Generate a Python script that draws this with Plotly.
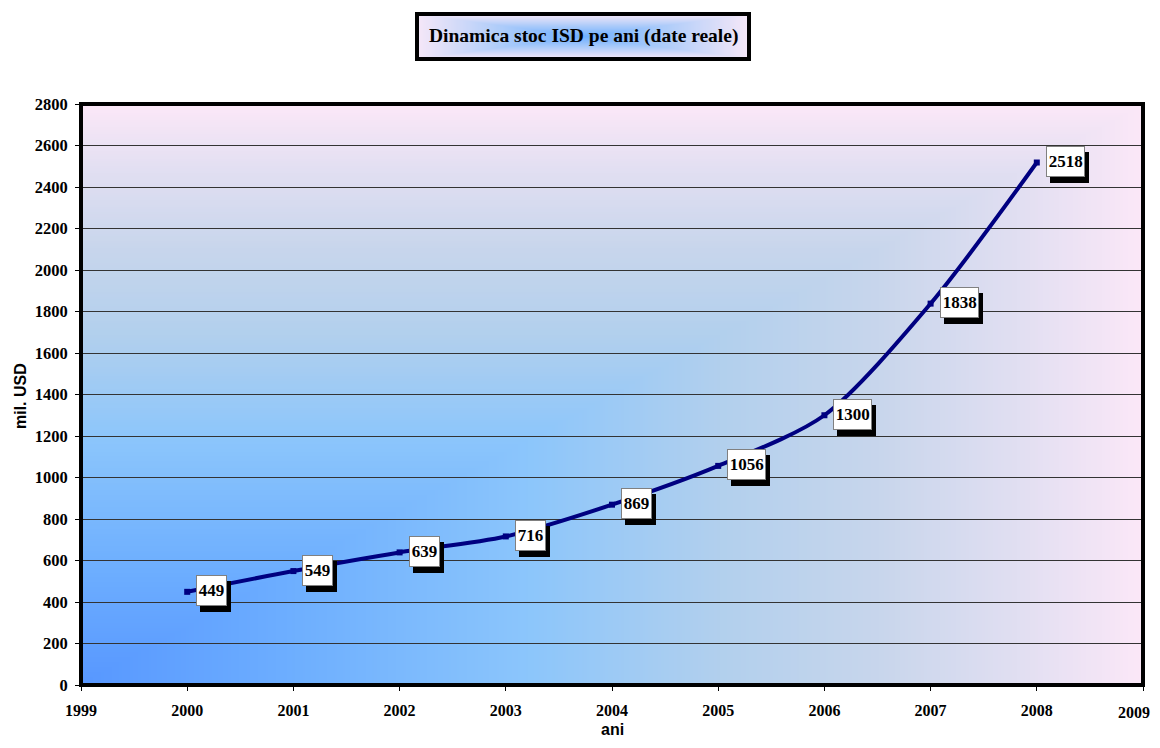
import base64, struct, zlib
import numpy as np
import plotly.graph_objects as go

# ---- data ----
years = [2000, 2001, 2002, 2003, 2004, 2005, 2006, 2007, 2008]
stock = [449, 549, 639, 716, 869, 1056, 1300, 1838, 2518]
x_ticks = list(range(1999, 2010))
y_ticks = list(range(0, 2801, 200))
title_text = "Dinamica stoc ISD pe ani (date reale)"
x_title = "ani"
y_title = "mil. USD"

# page has an 8px body margin: figure drawn at (8, 8); keep page from overflowing
OFF = 8
W, H = 1160 - 2 * OFF, 748 - 2 * OFF
PL, PR, PT, PB = 81, 1143, 104, 685          # plot area in page pixels
L, R, T, B = PL - OFF, OFF + W - PR, PT - OFF, OFF + H - PB
PW, PH = W - L - R, H - T - B


def png_uri(arr):
    h, w, _ = arr.shape
    raw = b"".join(b"\x00" + arr[r].tobytes() for r in range(h))

    def chunk(tag, data):
        c = struct.pack(">I", len(data)) + tag + data
        return c + struct.pack(">I", zlib.crc32(tag + data) & 0xFFFFFFFF)

    png = b"\x89PNG\r\n\x1a\n" + chunk(b"IHDR", struct.pack(">IIBBBBB", w, h, 8, 2, 0, 0, 0))
    png += chunk(b"IDAT", zlib.compress(raw, 9)) + chunk(b"IEND", b"")
    return "data:image/png;base64," + base64.b64encode(png).decode()


def ramp(t, stops):
    out = np.zeros(t.shape + (3,))
    pos = [s[0] for s in stops]
    for c in range(3):
        out[..., c] = np.interp(t, pos, [s[1][c] for s in stops])
    return np.clip(out, 0, 255).astype(np.uint8)


# plot-area gradient (from bottom-left corner)
gw, gh = 400, 240
u = np.linspace(0, 1, gw)[None, :].repeat(gh, 0)
v = np.linspace(1, 0, gh)[:, None].repeat(gw, 1)
t = np.maximum(u, v)
bg_stops = [
    (0.0, (88, 152, 255)),
    (0.2, (110, 175, 255)),
    (0.42, (140, 198, 252)),
    (0.6, (178, 208, 238)),
    (0.75, (200, 214, 236)),
    (0.88, (225, 223, 242)),
    (1.0, (252, 232, 248)),
]
bg_img = png_uri(ramp(t, bg_stops))

# title box gradient (from center)
tw, th = 300, 50
tu = np.linspace(-1, 1, tw)[None, :].repeat(th, 0)
tv = np.linspace(-1, 1, th)[:, None].repeat(tw, 1)
tt = np.maximum(np.abs(tu), np.abs(tv))
title_stops = [(0.0, (110, 175, 255)), (0.5, (175, 205, 250)), (1.0, (246, 232, 248))]
title_img = png_uri(ramp(tt, title_stops))


def px_x(p):
    return (p - PL) / PW


def px_y(p):
    return (PB - p) / PH


fig = go.Figure()
fig.add_trace(go.Scatter(
    x=years, y=stock, mode="lines+markers",
    line=dict(color="#000080", width=4, shape="spline", smoothing=0.8),
    marker=dict(symbol="square", size=6, color="#000080"),
    hoverinfo="x+y", showlegend=False,
))

annotations = []
lab_font = dict(family="Liberation Serif, Times New Roman, serif", size=17, color="black")
for xv, yv in zip(years, stock):
    bw = 8.6 * len(str(yv)) + 1
    annotations.append(dict(
        x=xv, y=yv, xref="x", yref="y", text=f"<b>{yv}</b>", showarrow=False,
        xanchor="left", yanchor="middle", xshift=13, yshift=-5,
        width=bw, height=27, align="center",
        bgcolor="black", bordercolor="black", borderwidth=1, borderpad=1, font=lab_font,
    ))
    annotations.append(dict(
        x=xv, y=yv, xref="x", yref="y", text=f"<b>{yv}</b>", showarrow=False,
        xanchor="left", yanchor="middle", xshift=9, yshift=1,
        width=bw, height=27, align="center",
        bgcolor="white", bordercolor="#808080", borderwidth=1, borderpad=1, font=lab_font,
    ))

# title
tx0, tx1, ty0, ty1 = px_x(417), px_x(749), px_y(59), px_y(14)
annotations.append(dict(
    x=(tx0 + tx1) / 2, y=(ty0 + ty1) / 2, xref="paper", yref="paper",
    text=f"<b>{title_text}</b>", showarrow=False, xanchor="center", yanchor="middle",
    font=dict(family="Liberation Serif, Times New Roman, serif", size=19.5, color="black"),
))
# last x tick label kept inside the page (it would otherwise overflow the window)
x_font = dict(family="Liberation Serif, Times New Roman, serif", size=16, color="black")
annotations.append(dict(
    x=px_x(OFF + W - 1), y=px_y(712), xref="paper", yref="paper",
    text=f"<b>{x_ticks[-1]}</b>", showarrow=False, xanchor="right", yanchor="middle",
    borderpad=0, font=x_font,
))
# axis titles
annotations.append(dict(
    x=px_x(612), y=px_y(OFF + H - 1), xref="paper", yref="paper", text=f"<b>{x_title}</b>",
    showarrow=False, xanchor="center", yanchor="bottom", borderpad=0,
    font=dict(family="Liberation Sans, Arial, sans-serif", size=16, color="black"),
))
annotations.append(dict(
    x=px_x(20), y=px_y(396), xref="paper", yref="paper", text=f"<b>{y_title}</b>",
    showarrow=False, xanchor="center", yanchor="middle", textangle=-90,
    font=dict(family="Liberation Sans, Arial, sans-serif", size=16, color="black"),
))

fig.update_layout(
    width=W, height=H,
    margin=dict(l=L, r=R, t=T, b=B),
    paper_bgcolor="white", plot_bgcolor="rgba(0,0,0,0)",
    images=[
        dict(source=bg_img, xref="paper", yref="paper", x=0, y=1, sizex=1, sizey=1,
             xanchor="left", yanchor="top", sizing="stretch", layer="below"),
        dict(source=title_img, xref="paper", yref="paper", x=tx0, y=ty1,
             sizex=tx1 - tx0, sizey=ty1 - ty0, xanchor="left", yanchor="top",
             sizing="stretch", layer="below"),
    ],
    shapes=[
        dict(type="rect", xref="paper", yref="paper", x0=0, x1=1, y0=0, y1=1,
             line=dict(color="black", width=4), layer="above"),
        dict(type="rect", xref="paper", yref="paper", x0=tx0, x1=tx1, y0=ty0, y1=ty1,
             line=dict(color="black", width=4), layer="above"),
    ],
    annotations=annotations,
    xaxis=dict(
        range=[1999, 2009], tickmode="array", tickvals=x_ticks,
        ticktext=[f"<b>{v}</b>" for v in x_ticks[:-1]] + [""],
        ticks="outside", ticklen=5, tickcolor="black", tickwidth=1,
        ticklabelstandoff=6, tickfont=x_font,
        showgrid=False, zeroline=False, showline=False,
    ),
    yaxis=dict(
        range=[0, 2800], tickmode="array", tickvals=y_ticks,
        ticktext=[f"<b>{v}</b>" for v in y_ticks],
        ticks="outside", ticklen=5, tickcolor="black", tickwidth=1,
        ticklabelstandoff=4,
        tickfont=dict(family="Liberation Serif, Times New Roman, serif", size=16.5, color="black"),
        showgrid=True, gridcolor="#333333", gridwidth=1, zeroline=False, showline=False,
    ),
)

fig.write_html("out.html")
